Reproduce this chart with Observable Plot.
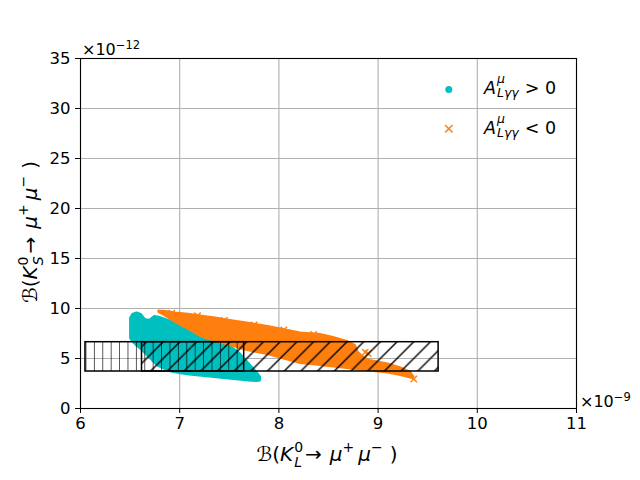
<!DOCTYPE html>
<html>
<head>
<meta charset="utf-8">
<script src="https://cdn.jsdelivr.net/npm/d3@7"></script>
<script src="https://cdn.jsdelivr.net/npm/@observablehq/plot@0.6"></script>
<style>
  html, body { margin: 0; padding: 0; background: white; }
  #chart { width: 640px; height: 480px; }
</style>
</head>
<body>
<div id="chart"></div>
<script>
// ---- data (x in 1e-9, y in 1e-12) ----
const xTicks = [6, 7, 8, 9, 10, 11];
const yTicks = [0, 5, 10, 15, 20, 25, 30, 35];

// cyan cloud (A > 0): outline
const cyanX    = [6.51, 6.53, 6.57, 6.61, 6.65, 6.70, 6.75, 6.80, 6.90, 7.00, 7.10, 7.20, 7.30, 7.40, 7.50, 7.60, 7.70, 7.78, 7.81];
const cyanHigh = [9.0, 9.35, 9.5, 9.35, 8.85, 8.75, 9.15, 9.05, 8.7, 8.3, 7.9, 7.5, 7.1, 6.7, 6.2, 5.5, 4.4, 3.5, 3.1];
const cyanLow  = [7.0, 6.7, 6.3, 6.0, 5.6, 5.1, 4.6, 4.2, 3.75, 3.55, 3.4, 3.3, 3.2, 3.1, 3.0, 2.9, 2.8, 2.75, 2.8];

// orange cloud (A < 0): outline
const orangeX    = [6.79, 6.86, 6.96, 7.11, 7.21, 7.36, 7.51, 7.68, 7.89, 8.07, 8.22, 8.42, 8.55, 8.69, 8.77, 8.80, 8.87, 8.92, 9.10, 9.23, 9.33, 9.36];
const orangeHigh = [9.75, 9.7, 9.55, 9.4, 9.25, 9.05, 8.8, 8.55, 8.2, 7.85, 7.55, 7.4, 7.1, 6.7, 6.3, 5.6, 5.0, 4.8, 4.45, 4.05, 3.6, 3.15];
const orangeLow  = [9.6, 9.2, 8.6, 7.8, 7.2, 6.7, 6.3, 5.8, 5.4, 4.9, 4.5, 4.3, 4.15, 4.0, 3.9, 3.85, 3.8, 3.75, 3.55, 3.3, 3.05, 2.95];
// stray orange markers at the ragged edges
const orangeStrayX = [6.92, 7.18, 7.45, 7.75, 8.05, 8.35, 8.70, 8.87, 8.90, 9.36];
const orangeStrayY = [9.52, 9.28, 8.8, 8.35, 7.85, 7.4, 6.2, 5.63, 5.5, 2.95];

// hatched boxes
const boxX1 = [6.05, 6.62];
const boxX2 = [7.65, 9.61];
const boxY1 = [3.7, 3.7];
const boxY2 = [6.63, 6.63];

// legend
const legendColor  = ["#00bfbf", "#ff7f0e"];
const legendSymbol = ["circle", "times"];
const legendSup    = ["μ", "μ"];
const legendSub    = ["Lγγ", "Lγγ"];
const legendRel    = ["> 0", "< 0"];

const cyanIdx = cyanX.map((_, i) => i);
const orangeIdx = orangeX.map((_, i) => i);
const strayIdx = orangeStrayX.map((_, i) => i);
const boxes = boxX1.map((x1, i) => ({x1, x2: boxX2[i], y1: boxY1[i], y2: boxY2[i]}));

const svg = Plot.plot({
  width: 640,
  height: 480,
  marginLeft: 80,
  marginRight: 64,
  marginTop: 58,
  marginBottom: 72,
  style: {fontFamily: "DejaVu Sans", background: "white", color: "black"},
  x: {domain: [6, 11]},
  y: {domain: [0, 35]},
  marks: [
    Plot.gridX(xTicks, {x: d => d, stroke: "#b0b0b0", strokeOpacity: 1, strokeWidth: 1.1}),
    Plot.gridY(yTicks, {y: d => d, stroke: "#b0b0b0", strokeOpacity: 1, strokeWidth: 1.1}),
    Plot.areaY(cyanIdx, {x: i => cyanX[i], y1: i => cyanLow[i], y2: i => cyanHigh[i],
      fill: "#00bfbf", stroke: "#00bfbf", strokeWidth: 3, strokeLinejoin: "round"}),
    Plot.areaY(orangeIdx, {x: i => orangeX[i], y1: i => orangeLow[i], y2: i => orangeHigh[i],
      fill: "#ff7f0e", stroke: "#ff7f0e", strokeWidth: 2, strokeLinejoin: "round"}),
    Plot.dot(strayIdx, {x: i => orangeStrayX[i], y: i => orangeStrayY[i], symbol: "times", r: 3,
      stroke: "#ff7f0e", strokeWidth: 1.4}),
    Plot.rect([boxes[0]], {x1: "x1", x2: "x2", y1: "y1", y2: "y2", fill: "url(#hatchV)", stroke: "black", strokeWidth: 1.5}),
    Plot.rect([boxes[1]], {x1: "x1", x2: "x2", y1: "y1", y2: "y2", fill: "url(#hatchD)", stroke: "black", strokeWidth: 1.5}),
    Plot.axisX({ticks: xTicks, tickSize: 5, tickPadding: 4, fontSize: 16.5, label: null, tickFormat: d => String(d)}),
    Plot.axisY({ticks: yTicks, tickSize: 5, tickPadding: 5, fontSize: 16.5, label: null, tickFormat: d => String(d)}),
    Plot.frame({stroke: "black", strokeWidth: 1.1}),
    Plot.dot(legendColor.slice(0, 1), {frameAnchor: "top-right", dx: -127.7, dy: 31, r: 3.5, fill: d => d, symbol: legendSymbol[0]}),
    Plot.dot(legendColor.slice(1, 2), {frameAnchor: "top-right", dx: -127.7, dy: 70.3, r: 3.5, stroke: d => d, strokeWidth: 1.5, symbol: legendSymbol[1]})
  ]
});

const s = d3.select(svg);
s.insert("defs", ":first-child").html(`
  <pattern id="hatchV" patternUnits="userSpaceOnUse" width="8.4" height="8.4" x="1.5">
    <line x1="0" y1="-1" x2="0" y2="9.4" stroke="black" stroke-width="1.3"/>
  </pattern>
  <pattern id="hatchD" patternUnits="userSpaceOnUse" width="16.7" height="16.7" x="4">
    <line x1="0" y1="16.7" x2="16.7" y2="0" stroke="black" stroke-width="1.4"/>
    <line x1="-2" y1="2" x2="2" y2="-2" stroke="black" stroke-width="1.4"/>
    <line x1="14.7" y1="18.7" x2="18.7" y2="14.7" stroke="black" stroke-width="1.4"/>
  </pattern>`);

const FF = "DejaVu Sans";
const layer = s.append("g").attr("text-anchor", "start").attr("font-family", FF).attr("fill", "black");
// offset texts
const t1 = layer.append("text").attr("x", 82).attr("y", 55).attr("font-size", 16);
t1.append("tspan").text("×10");
t1.append("tspan").attr("font-size", 11.5).attr("dy", -6).text("−12");
const t2 = layer.append("text").attr("x", 580).attr("y", 407).attr("font-size", 16);
t2.append("tspan").text("×10");
t2.append("tspan").attr("font-size", 11.5).attr("dy", -6).text("−9");

// axis labels
function axisLabel(g, sub) {
  const t = g.append("text").attr("font-size", 20).attr("text-anchor", "middle");
  t.append("tspan").text("ℬ(");
  t.append("tspan").attr("font-style", "italic").text("K");
  t.append("tspan").attr("font-size", 14).attr("dy", -9).attr("dx", 1).text("0");
  t.append("tspan").attr("font-size", 14).attr("font-style", "italic").attr("dx", -8.9).attr("dy", 15).text(sub);
  t.append("tspan").attr("dy", -6).attr("dx", 3).text("→");
  t.append("tspan").attr("font-style", "italic").attr("dx", 8).text("μ");
  t.append("tspan").attr("font-size", 14).attr("dy", -9).text("+");
  t.append("tspan").attr("font-style", "italic").attr("dy", 9).attr("dx", 4).text("μ");
  t.append("tspan").attr("font-size", 14).attr("dy", -9).text("−");
  t.append("tspan").attr("dy", 9).attr("dx", 7).text(")");
  return t;
}
axisLabel(layer.append("g").attr("transform", "translate(327,461)"), "L");
axisLabel(layer.append("g").attr("transform", "translate(37,232) rotate(-90)"), "S");

// legend labels
[94.3, 134].forEach((by, i) => {
  const t = layer.append("text").attr("x", 484).attr("y", by).attr("font-size", 17.5);
  t.append("tspan").attr("font-style", "italic").text("A");
  t.append("tspan").attr("font-size", 12.5).attr("font-style", "italic").attr("dy", -11).attr("dx", 1).text(legendSup[i]);
  t.append("tspan").attr("font-size", 12.5).attr("font-style", "italic").attr("dy", 13.5).attr("dx", -8).text(legendSub[i]);
  t.append("tspan").attr("dy", -2.5).attr("dx", 6).text(legendRel[i]);
});

document.getElementById("chart").appendChild(svg);
</script>
</body>
</html>
